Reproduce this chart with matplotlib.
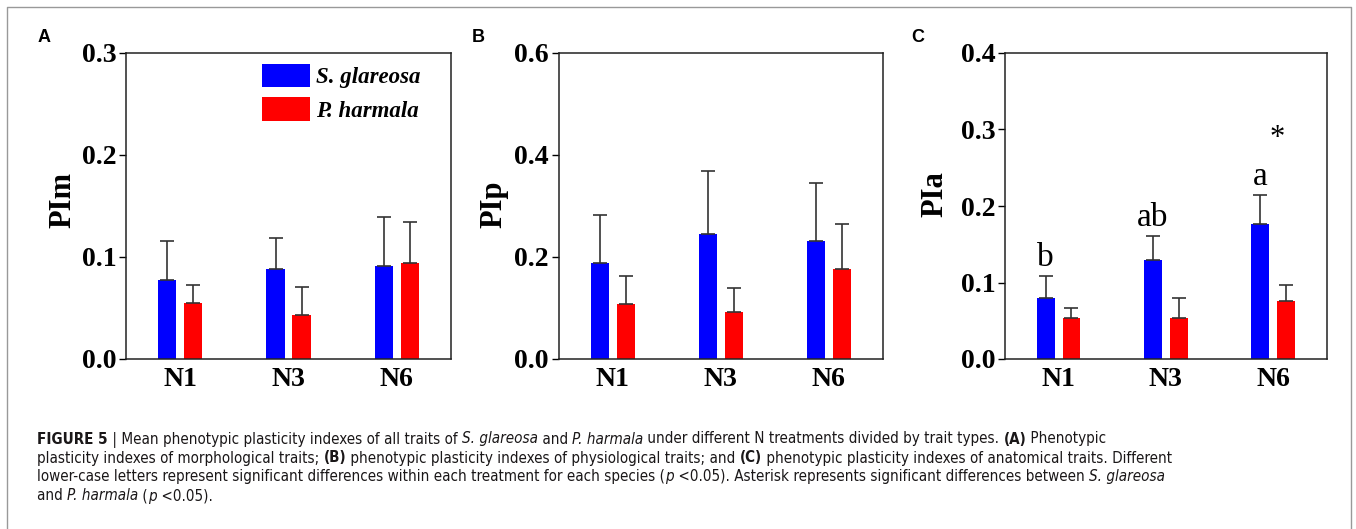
import matplotlib
matplotlib.use("Agg")
import matplotlib.pyplot as plt
from matplotlib import font_manager as fm
from matplotlib.lines import Line2D
from matplotlib.patches import Patch
import numpy as np

# data
groups = ['N1', 'N3', 'N6']
species = ['S. glareosa', 'P. harmala']

pim_sg = [0.077, 0.088, 0.091]
pim_sg_err = [0.039, 0.031, 0.048]
pim_ph = [0.055, 0.043, 0.094]
pim_ph_err = [0.018, 0.028, 0.040]

pip_sg = [0.188, 0.245, 0.231]
pip_sg_err = [0.094, 0.123, 0.115]
pip_ph = [0.107, 0.092, 0.176]
pip_ph_err = [0.056, 0.047, 0.089]

pia_sg = [0.080, 0.129, 0.176]
pia_sg_err = [0.029, 0.032, 0.038]
pia_ph = [0.053, 0.054, 0.076]
pia_ph_err = [0.014, 0.026, 0.021]

letters_c = ['b', 'ab', 'a']
stars_c = ['', '', '*']

ytops = [0.3, 0.6, 0.4]
ysteps = [0.1, 0.2, 0.1]
ylabels = ['PIm', 'PIp', 'PIa']
tags = ['A', 'B', 'C']

W, H = 1356, 529
fig = plt.figure(figsize=(W / 100, H / 100), dpi=100)

serif = 'Liberation Serif'
sans = 'Liberation Sans'

# axes boxes in pixels: left, width
boxes = [(126, 325), (558.7, 324), (1005, 321.7)]
top_px, bot_px = 53, 359
tag_x = [38, 472, 911]
# ylabel anchor (axes fraction)
ylab_xy = [(-0.148, 0.52), (-0.155, 0.506), (-0.172, 0.54)]

panels = [
    (pim_sg, pim_sg_err, pim_ph, pim_ph_err),
    (pip_sg, pip_sg_err, pip_ph, pip_ph_err),
    (pia_sg, pia_sg_err, pia_ph, pia_ph_err),
]

x = np.arange(len(groups))
bw = 0.167
off = 0.12
axes = []
for i, (sg, sge, ph, phe) in enumerate(panels):
    l, w = boxes[i]
    ax = fig.add_axes([l / W, 1 - bot_px / H, w / W, (bot_px - top_px) / H])
    axes.append(ax)
    ax.bar(x - off, sg, bw, color='#0000ff', zorder=2)
    ax.bar(x + off, ph, bw, color='#ff0000', zorder=2)
    ax.errorbar(x - off, sg, yerr=[np.zeros(3), sge], fmt='none', ecolor='#333333',
                elinewidth=1.2, capsize=5, capthick=1.2, zorder=3)
    ax.errorbar(x + off, ph, yerr=[np.zeros(3), phe], fmt='none', ecolor='#333333',
                elinewidth=1.2, capsize=5, capthick=1.2, zorder=3)
    ax.set_xlim(-0.5, 2.5)
    ax.set_ylim(0, ytops[i])
    yt = np.arange(0, ytops[i] + 1e-9, ysteps[i])
    ax.set_yticks(yt)
    ax.set_yticklabels(['%.1f' % v for v in yt],
                       fontfamily=serif, fontweight='bold', fontsize=20)
    ax.set_xticks(x)
    ax.set_xticklabels(groups, fontfamily=serif, fontweight='bold', fontsize=20)
    ax.tick_params(axis='x', length=0, pad=6)
    ax.tick_params(axis='y', length=5, width=1, direction='out', pad=2)
    for s in ax.spines.values():
        s.set_linewidth(1.1)
        s.set_color('#222222')
    ax.set_ylabel(ylabels[i], fontfamily=serif, fontweight='bold', fontsize=22)
    ax.yaxis.set_label_coords(*ylab_xy[i])
    fig.text(tag_x[i] / W, 1 - 38 / H, tags[i], fontfamily=sans, fontweight='bold',
             fontsize=13, va='center', ha='left')

# legend in panel A
handles = [Patch(facecolor='#0000ff'), Patch(facecolor='#ff0000')]
leg = axes[0].legend(handles, species, loc='upper left', bbox_to_anchor=(0.4175, 0.965),
                     frameon=False, borderpad=0, borderaxespad=0, handlelength=2.1,
                     handleheight=1.2, handletextpad=0.28, labelspacing=0.4,
                     prop={'family': serif, 'weight': 'bold', 'style': 'italic', 'size': 16.5})

# significance letters and asterisk in panel C
axc = axes[2]
for j in range(3):
    axc.text(x[j] - off, pia_sg[j] + pia_sg_err[j] + 0.013, letters_c[j], ha='center',
             va='baseline', fontfamily=serif, fontsize=24)
    if stars_c[j]:
        axc.text(x[j] + 0.04, 0.279, stars_c[j], ha='center', va='baseline',
                 fontfamily=serif, fontsize=22)

# outer frame, open at the bottom
fx = [7 / W, 7 / W, 1351 / W, 1351 / W]
fy = [0, 1 - 7 / H, 1 - 7 / H, 0]
fig.add_artist(Line2D(fx, fy, color='#999999', lw=1.0, transform=fig.transFigure))

# caption font: a narrow sans if one is installed, else Roboto Light
fonts = fm.fontManager.ttflist
narrow = [f for f in fonts if f.name == 'Liberation Sans Narrow']
dv_cond = [f for f in fonts if f.name == 'DejaVu Sans' and 'condensed' in str(f.stretch)]
if narrow:
    cap_font, cap_stretch, cap_weight = 'Liberation Sans Narrow', 'normal', 'normal'
elif dv_cond:
    cap_font, cap_stretch, cap_weight = 'DejaVu Sans', 'condensed', 'normal'
else:
    cap_font, cap_stretch, cap_weight = 'Roboto', 'normal', 'light'
cap_color = '#1a1718'
renderer = fig.canvas.get_renderer()


def style_kw(st, size):
    kw = dict(fontfamily=cap_font, fontsize=size, color=cap_color, fontweight=cap_weight,
              fontstretch=cap_stretch)
    if 'b' in st:
        kw['fontweight'] = 'bold'
    if 'i' in st:
        kw['fontstyle'] = 'italic'
    return kw


def piece_width(txt, kw):
    a = fig.text(0, 0, 'x' + txt + 'x', **kw)
    b = fig.text(0, 0, 'xx', **kw)
    wdt = a.get_window_extent(renderer).width - b.get_window_extent(renderer).width
    a.remove()
    b.remove()
    return wdt


def line_width(parts, size):
    return sum(piece_width(t, style_kw(st, size)) for t, st in parts)


def rich_line(x0, y0, parts, size):
    xp = x0
    for txt, st in parts:
        kw = style_kw(st, size)
        fig.text(xp / W, 1 - y0 / H, txt, va='baseline', ha='left', **kw)
        xp += piece_width(txt, kw)


caption = [
    [('FIGURE 5', 'b'), (' | Mean phenotypic plasticity indexes of all traits of ', ''),
     ('S. glareosa', 'i'), (' and ', ''), ('P. harmala', 'i'),
     (' under different N treatments divided by trait types. ', ''), ('(A)', 'b'),
     (' Phenotypic', '')],
    [('plasticity indexes of morphological traits; ', ''), ('(B)', 'b'),
     (' phenotypic plasticity indexes of physiological traits; and ', ''), ('(C)', 'b'),
     (' phenotypic plasticity indexes of anatomical traits. Different', '')],
    [('lower-case letters represent significant differences within each treatment for each species (', ''),
     ('p', 'i'), (' <0.05). Asterisk represents significant differences between ', ''),
     ('S. glareosa', 'i')],
    [('and ', ''), ('P. harmala', 'i'), (' (', ''), ('p', 'i'), (' <0.05).', '')],
]
# size the caption so the second line spans the same width as in the figure
cap_size = 10 * (1169 - 37) / line_width(caption[1], 10)
baselines = [443.5, 462.5, 481.5, 500.5]
for line, yb in zip(caption, baselines):
    rich_line(37, yb, line, cap_size)

fig.savefig('out.png', dpi=100)
